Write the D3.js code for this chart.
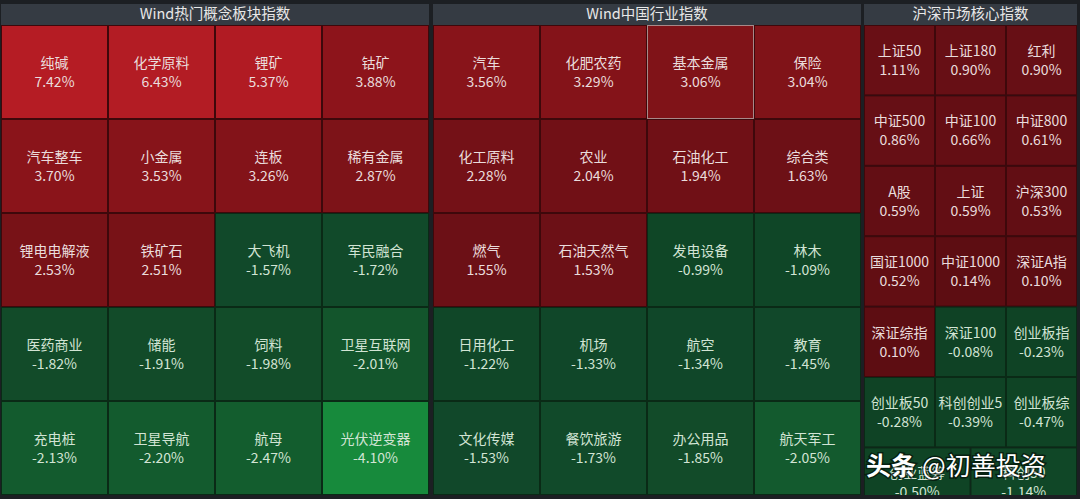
<!DOCTYPE html>
<html>
<head>
<meta charset="utf-8">
<script src="https://cdn.jsdelivr.net/npm/d3@7/dist/d3.min.js"></script>
<style>
html,body{margin:0;padding:0;background:#1c1f23;}
svg{display:block;}
</style>
</head>
<body>
<svg id="chart" width="1080" height="499"></svg>
<script>
// ---- data ----
const panelTitles = ["Wind热门概念板块指数", "Wind中国行业指数", "沪深市场核心指数"];

const conceptNames = [
  ["纯碱", "化学原料", "锂矿", "钴矿"],
  ["汽车整车", "小金属", "连板", "稀有金属"],
  ["锂电电解液", "铁矿石", "大飞机", "军民融合"],
  ["医药商业", "储能", "饲料", "卫星互联网"],
  ["充电桩", "卫星导航", "航母", "光伏逆变器"]
];
const conceptValues = [
  [7.42, 6.43, 5.37, 3.88],
  [3.70, 3.53, 3.26, 2.87],
  [2.53, 2.51, -1.57, -1.72],
  [-1.82, -1.91, -1.98, -2.01],
  [-2.13, -2.20, -2.47, -4.10]
];

const industryNames = [
  ["汽车", "化肥农药", "基本金属", "保险"],
  ["化工原料", "农业", "石油化工", "综合类"],
  ["燃气", "石油天然气", "发电设备", "林木"],
  ["日用化工", "机场", "航空", "教育"],
  ["文化传媒", "餐饮旅游", "办公用品", "航天军工"]
];
const industryValues = [
  [3.56, 3.29, 3.06, 3.04],
  [2.28, 2.04, 1.94, 1.63],
  [1.55, 1.53, -0.99, -1.09],
  [-1.22, -1.33, -1.34, -1.45],
  [-1.53, -1.73, -1.85, -2.05]
];

const coreNames = [
  ["上证50", "上证180", "红利"],
  ["中证500", "中证100", "中证800"],
  ["A股", "上证", "沪深300"],
  ["国证1000", "中证1000", "深证A指"],
  ["深证综指", "深证100", "创业板指"],
  ["创业板50", "科创创业5", "创业板综"],
  ["创业蓝筹", "科创50"]
];
const coreValues = [
  [1.11, 0.90, 0.90],
  [0.86, 0.66, 0.61],
  [0.59, 0.59, 0.53],
  [0.52, 0.14, 0.10],
  [0.10, -0.08, -0.23],
  [-0.28, -0.39, -0.47],
  [-0.50, -1.14]
];

const highlighted = "基本金属";
const watermark = ["头条", "@初善投资"];

// ---- layout ----
const svg = d3.select("#chart");
const W = 1080, H = 499;
svg.append("rect").attr("width", W).attr("height", H).attr("fill", "#1c1f23");

const panels = [
  {title: panelTitles[0], names: conceptNames, values: conceptValues, x0: 1, x1: 429, rowH: null},
  {title: panelTitles[1], names: industryNames, values: industryValues, x0: 433, x1: 861, rowH: null},
  {title: panelTitles[2], names: coreNames, values: coreValues, x0: 864, x1: 1077, rowH: 70.4}
];
const headerY0 = 4, headerY1 = 25, bodyY1 = 495;

const color = d3.scaleLinear()
  .domain([-4.1, -2.5, -2.02, -1.99, -1.5, -1.0, -0.05, 0.05, 1.0, 2.0, 3.0, 3.9, 5.0, 7.5])
  .range(["#178a3c", "#135d2e", "#135a2e", "#124c29", "#11482a", "#0f4626", "#0f4225",
          "#5c0d12", "#680f15", "#701016", "#7f1318", "#8d141b", "#b01b23", "#b51c24"])
  .clamp(true);

const font = "'Noto Sans CJK SC', 'Noto Sans', sans-serif";
const fmt = v => v.toFixed(2) + "%";

panels.forEach(p => {
  const g = svg.append("g");
  g.append("rect").attr("x", p.x0).attr("y", headerY0)
    .attr("width", p.x1 - p.x0).attr("height", headerY1 - headerY0).attr("fill", "#353b43");
  g.append("text").attr("x", (p.x0 + p.x1) / 2).attr("y", (headerY0 + headerY1) / 2 + 1)
    .attr("text-anchor", "middle").attr("dominant-baseline", "middle")
    .attr("fill", "#e8e8e8").attr("font-family", font).attr("font-size", 14.5)
    .text(p.title);

  const nRows = p.names.length;
  const body = g.append("g");
  const clipId = "clip" + p.x0;
  svg.append("clipPath").attr("id", clipId).append("rect")
    .attr("x", p.x0).attr("y", headerY1).attr("width", p.x1 - p.x0).attr("height", bodyY1 - headerY1);
  body.attr("clip-path", `url(#${clipId})`);

  const rowScale = d3.scaleBand().domain(d3.range(nRows))
    .range(p.rowH ? [headerY1, headerY1 + p.rowH * nRows] : [headerY1, bodyY1]);

  const cells = [];
  p.names.forEach((row, ri) => {
    const colScale = d3.scaleBand().domain(d3.range(row.length)).range([p.x0, p.x1]);
    row.forEach((name, ci) => {
      cells.push({name, value: p.values[ri][ci],
        x: colScale(ci), y: rowScale(ri), w: colScale.bandwidth(), h: rowScale.bandwidth()});
    });
  });

  const cg = body.selectAll("g.cell").data(cells).join("g").attr("class", "cell");
  cg.append("rect")
    .attr("x", d => d.x + 0.5).attr("y", d => d.y + 0.5)
    .attr("width", d => d.w - 1).attr("height", d => d.h - 1)
    .attr("fill", d => color(d.value))
    .attr("stroke", d => d.value >= 0 ? "#3e080b" : "#0a2a16")
    .attr("stroke-width", 1);
  cg.filter(d => d.name === highlighted).append("rect")
    .attr("x", d => d.x + 0.5).attr("y", d => d.y + 0.5)
    .attr("width", d => d.w - 1).attr("height", d => d.h - 1)
    .attr("fill", "none").attr("stroke", "#a88888").attr("stroke-width", 1);

  cg.append("text")
    .attr("x", d => d.x + d.w / 2).attr("y", d => d.y + d.h / 2 - 8)
    .attr("text-anchor", "middle").attr("dominant-baseline", "middle")
    .attr("fill", d => d.value >= 0 ? "#eadcdc" : "#d2e4d4")
    .attr("font-family", font).attr("font-size", 14)
    .text(d => d.name);
  cg.append("text")
    .attr("x", d => d.x + d.w / 2).attr("y", d => d.y + d.h / 2 + 11)
    .attr("text-anchor", "middle").attr("dominant-baseline", "middle")
    .attr("fill", d => d.value >= 0 ? "#eadcdc" : "#d2e4d4")
    .attr("font-family", font).attr("font-size", 14)
    .text(d => fmt(d.value));
});

// watermark
const wm = svg.append("text").attr("x", 866).attr("y", 475)
  .attr("font-family", font).attr("font-size", 25).attr("fill", "#ffffff")
  .style("paint-order", "stroke").attr("stroke", "rgba(0,0,0,0.55)").attr("stroke-width", 3);
wm.append("tspan").attr("font-weight", "bold").text(watermark[0]);
wm.append("tspan").attr("dx", 6).text(watermark[1]);
</script>
</body>
</html>
